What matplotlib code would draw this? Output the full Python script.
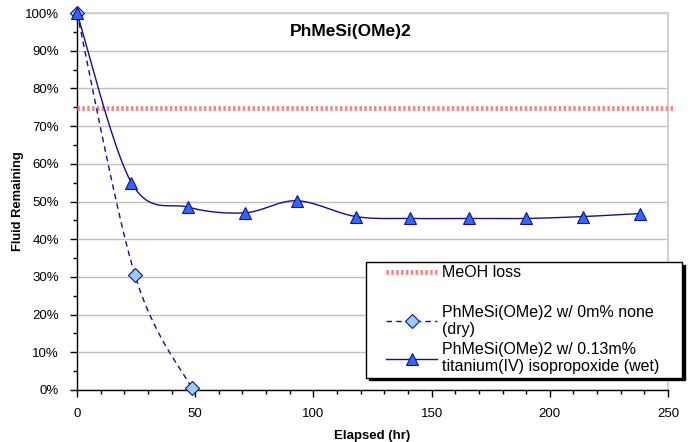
import numpy as np
import matplotlib
matplotlib.use("Agg")
import matplotlib.pyplot as plt
from matplotlib.lines import Line2D
from matplotlib.legend_handler import HandlerLine2D
from matplotlib.ticker import MultipleLocator, PercentFormatter

# ---- data ----
wet_hours = [0, 23, 47, 71, 93, 118, 141, 166, 190, 214, 238]
wet_pct = [100, 55, 48.5, 47, 50.2, 46, 45.5, 45.5, 45.5, 46, 46.8]
dry_hours = [0, 24.5, 48.5]
dry_pct = [100, 30.5, 0.5]
meoh_hours = [0, 253]
meoh_pct = [74.7, 74.7]

title = "PhMeSi(OMe)2"
label_meoh = "MeOH loss"
label_dry = "PhMeSi(OMe)2 w/ 0m% none\n(dry)"
label_wet = "PhMeSi(OMe)2 w/ 0.13m%\ntitanium(IV) isopropoxide (wet)"
xlabel = "Elapsed (hr)"
ylabel = "Fluid Remaining"

plt.rcParams['font.family'] = ['Liberation Sans', 'DejaVu Sans']


def smooth(xs, ys, n=40):
    """Excel-like smoothed line (Catmull-Rom / Bezier with tension 1/6)."""
    xs = np.asarray(xs, float)
    ys = np.asarray(ys, float)
    px = np.concatenate([[xs[0]], xs, [xs[-1]]])
    py = np.concatenate([[ys[0]], ys, [ys[-1]]])
    outx, outy = [], []
    t = np.linspace(0, 1, n)
    for i in range(1, len(px) - 2):
        p0 = np.array([px[i], py[i]])
        p3 = np.array([px[i + 1], py[i + 1]])
        c1 = p0 + (np.array([px[i + 1], py[i + 1]]) - np.array([px[i - 1], py[i - 1]])) / 6
        c2 = p3 - (np.array([px[i + 2], py[i + 2]]) - np.array([px[i], py[i]])) / 6
        b = ((1 - t) ** 3)[:, None] * p0 + (3 * (1 - t) ** 2 * t)[:, None] * c1 \
            + (3 * (1 - t) * t ** 2)[:, None] * c2 + (t ** 3)[:, None] * p3
        outx.extend(b[:, 0])
        outy.extend(b[:, 1])
    return np.array(outx), np.array(outy)


fig = plt.figure(figsize=(6.92, 4.42), dpi=100)
ax = fig.add_axes([77 / 692, 1 - 390 / 442, (668 - 77) / 692, (390 - 13) / 442])

ax.set_xlim(0, 250)
ax.set_ylim(0, 100)

ax.yaxis.set_major_locator(MultipleLocator(10))
ax.yaxis.set_minor_locator(MultipleLocator(5))
ax.xaxis.set_major_locator(MultipleLocator(50))
ax.xaxis.set_minor_locator(MultipleLocator(10))
ax.yaxis.set_major_formatter(PercentFormatter(decimals=0))

ax.grid(axis='y', which='major', color='#c0c0c0', linewidth=1)
ax.set_axisbelow(True)

for s in ['top', 'right']:
    ax.spines[s].set_color('#d0d0d0')
    ax.spines[s].set_linewidth(1.5)
for s in ['left', 'bottom']:
    ax.spines[s].set_color('black')
    ax.spines[s].set_linewidth(1)

ax.tick_params(axis='both', which='major', direction='out', length=5, width=1,
               labelsize=9.5, colors='black')
ax.tick_params(axis='both', which='minor', direction='out', length=3, width=1)
ax.tick_params(axis='y', which='major', pad=8)
ax.tick_params(axis='x', which='major', pad=8)

# MeOH loss line
ax.plot(meoh_hours, meoh_pct, color='#ff8080', lw=3.5, ls=(0, (0.5, 0.5)),
        clip_on=False, zorder=3)

navy = '#101090'
# dry
sx, sy = smooth(dry_hours, dry_pct)
ax.plot(sx, sy, color=navy, lw=1, ls=(0, (4, 3)), zorder=4)
ax.plot(dry_hours, dry_pct, ls='none', marker='D', ms=7, mfc='#99ccff',
        mec=navy, mew=0.8, zorder=5, clip_on=False)

# wet
sx, sy = smooth(wet_hours, wet_pct)
ax.plot(sx, sy, color=navy, lw=1, zorder=4)
ax.plot(wet_hours, wet_pct, ls='none', marker='^', ms=9, mfc='#3366ff',
        mec=navy, mew=0.8, zorder=5, clip_on=False)

ax.text(0.464, 0.95, title, transform=ax.transAxes, ha='center', va='center',
        fontsize=12.5, fontweight='bold')

ax.set_xlabel(xlabel, fontsize=9.5, fontweight='bold', labelpad=7)
ax.set_ylabel(ylabel, fontsize=9.3, fontweight='bold')
ax.yaxis.set_label_coords(-0.09, 0.5)

handles = [
    Line2D([], [], color='#ff8080', lw=3.5, ls=(0, (0.5, 0.5))),
    Line2D([], [], color='none'),
    Line2D([], [], color=navy, lw=1, ls=(0, (4, 3)), marker='D', ms=7,
           mfc='#99ccff', mec=navy, mew=0.8),
    Line2D([], [], color=navy, lw=1, marker='^', ms=9, mfc='#3366ff',
           mec=navy, mew=0.8),
]
labels = [label_meoh, " ", label_dry, label_wet]
leg = fig.legend(handles, labels, loc='upper left',
                 bbox_to_anchor=(366 / 692, 1 - 375 / 442, 316 / 692, 113 / 442),
                 mode='expand',
                 handler_map={Line2D: HandlerLine2D(xpad=1.05)},
                 fontsize=11.5, frameon=True, fancybox=False, edgecolor='black',
                 framealpha=1, shadow={'color': 'black', 'alpha': 1},
                 handlelength=4.25, handletextpad=0.3, labelspacing=0.3,
                 borderpad=0.2, borderaxespad=0)
leg.get_frame().set_linewidth(1)

fig.savefig('out.png', dpi=100)
